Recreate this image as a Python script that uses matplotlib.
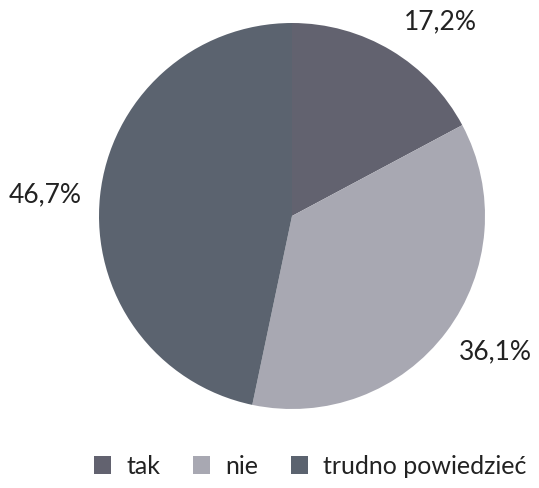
import matplotlib.pyplot as plt
from matplotlib.patches import Patch

plt.rcParams['font.family'] = ['Lato', 'DejaVu Sans']

# Survey answers
labels = ['tak', 'nie', 'trudno powiedzieć']
shares = [17.2, 36.1, 46.7]
colors = ['#62626f', '#a8a8b2', '#5b636f']

# where the percentage labels sit (axes data units, pie radius = 1)
label_xy = [(0.767, 1.01), (1.055, -0.70), (-1.28, 0.114)]

fig = plt.figure(figsize=(5.39, 4.89), dpi=100)
ax = fig.add_axes([(292 - 193) / 539, (489 - 217 - 193) / 489, 386 / 539, 386 / 489])

wedges, texts, autotexts = ax.pie(
    shares, colors=colors, startangle=90, counterclock=False,
    autopct=lambda p: f'{p:.1f}%'.replace('.', ','), pctdistance=1.27,
    textprops={'fontsize': 19, 'color': '#222222'})
for t, xy in zip(autotexts, label_xy):
    t.set_position(xy)
ax.set_xlim(-1, 1)
ax.set_ylim(-1, 1)

handles = [Patch(facecolor=c, edgecolor='none') for c in colors]
fig.legend(handles, labels, loc='center', bbox_to_anchor=(310 / 539, 1 - 467 / 489),
           ncol=3, frameon=False, fontsize=18, handlelength=0.7, handleheight=0.7,
           handletextpad=0.6, columnspacing=1.3, labelcolor='#222222',
           borderpad=0, borderaxespad=0)

fig.savefig('out.png', dpi=100)
